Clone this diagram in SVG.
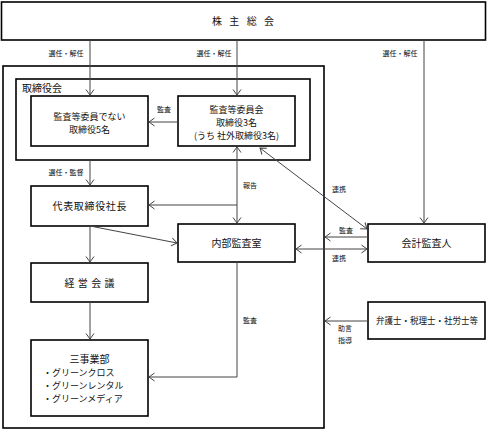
<svg xmlns="http://www.w3.org/2000/svg" width="487" height="431" viewBox="0 0 487 431">
<style>
.box{fill:#fff;stroke:#000;stroke-width:1.6}
.frame{fill:none;stroke:#000;stroke-width:1.6}
.t{font-family:"Noto Sans CJK JP","Noto Sans",sans-serif;font-size:10px;fill:#111;text-anchor:middle}
.s{font-family:"Noto Sans CJK JP","Noto Sans",sans-serif;font-size:9px;fill:#111;text-anchor:middle}
.l{font-family:"Noto Sans CJK JP","Noto Sans",sans-serif;font-size:7px;fill:#111;text-anchor:middle}
.c{fill:none;stroke:#444;stroke-width:1}
.a{marker-end:url(#ah)}
.d{marker-start:url(#ah);marker-end:url(#ah)}
</style>
<defs>
<marker id="ah" markerUnits="userSpaceOnUse" markerWidth="8" markerHeight="10" refX="5.5" refY="4" orient="auto-start-reverse" viewBox="0 0 8 8" overflow="visible">
<path d="M0,0 L5.5,4 L0,8" fill="none" stroke="#444" stroke-width="1"/>
</marker>
</defs>
<rect class="frame" x="3" y="66" width="321" height="362"/>
<g id="torishimariyakukai">
<rect class="frame" x="16" y="79" width="294" height="81"/>
<text class="t" x="22" y="92" style="text-anchor:start">取締役会</text>
</g>
<g id="kabunushi">
<rect class="box" x="1.5" y="2" width="484" height="38"/>
<text class="t" x="243" y="25" textLength="62" lengthAdjust="spacing">株主総会</text>
</g>
<g id="torishimariyaku5">
<rect class="box" x="31" y="96" width="117" height="50"/>
<text class="s" x="89.5" y="120">監査等委員でない</text>
<text class="s" x="89.5" y="133">取締役5名</text>
</g>
<g id="kansaiinkai">
<rect class="box" x="178" y="96" width="117" height="50"/>
<text class="s" x="236.5" y="113">監査等委員会</text>
<text class="s" x="236.5" y="126">取締役3名</text>
<text class="s" x="236.5" y="139">(うち 社外取締役3名)</text>
</g>
<g id="shacho">
<rect class="box" x="31" y="186" width="117" height="40"/>
<text class="t" x="89.5" y="210" textLength="74" lengthAdjust="spacing">代表取締役社長</text>
</g>
<g id="naibukansa">
<rect class="box" x="178" y="224" width="117" height="38"/>
<text class="t" x="236.5" y="247">内部監査室</text>
</g>
<g id="kaikeikansanin">
<rect class="box" x="368" y="224" width="117" height="38"/>
<text class="t" x="426.5" y="247">会計監査人</text>
</g>
<g id="keieikaigi">
<rect class="box" x="31" y="263" width="117" height="39"/>
<text class="t" x="89.5" y="287" textLength="50" lengthAdjust="spacing">経営会議</text>
</g>
<g id="sanjigyobu">
<rect class="box" x="31" y="340" width="117" height="76"/>
<text class="t" x="89.5" y="363">三事業部</text>
<text class="s" x="43" y="376" style="text-anchor:start">・グリーンクロス</text>
<text class="s" x="43" y="389" style="text-anchor:start">・グリーンレンタル</text>
<text class="s" x="43" y="402" style="text-anchor:start">・グリーンメディア</text>
</g>
<g id="bengoshi">
<rect class="box" x="368" y="302" width="117" height="37"/>
<text class="s" x="427" y="324" textLength="102" lengthAdjust="spacingAndGlyphs">弁護士・税理士・社労士等</text>
</g>
<g id="connectors">
<line class="c a" x1="90" y1="40" x2="90" y2="95"/>
<line class="c a" x1="237" y1="40" x2="237" y2="95"/>
<line class="c a" x1="424" y1="40" x2="424" y2="223"/>
<line class="c a" x1="178" y1="122" x2="149" y2="122"/>
<line class="c a" x1="90" y1="160" x2="90" y2="185"/>
<line class="c d" x1="237" y1="147" x2="237" y2="223"/>
<line class="c a" x1="237" y1="205" x2="149" y2="205"/>
<line class="c a" x1="90" y1="226" x2="177" y2="243"/>
<line class="c a" x1="90" y1="226" x2="90" y2="262"/>
<line class="c a" x1="90" y1="302" x2="90" y2="339"/>
<polyline class="c a" points="237,262 237,377 149,377"/>
<line class="c d" x1="260" y1="148" x2="367" y2="229"/>
<line class="c a" x1="368" y1="237" x2="325" y2="237"/>
<line class="c d" x1="296" y1="249" x2="367" y2="249"/>
<line class="c a" x1="368" y1="321" x2="325" y2="321"/>
<text class="l" x="66" y="56">選任・解任</text>
<text class="l" x="214" y="56">選任・解任</text>
<text class="l" x="400" y="56">選任・解任</text>
<text class="l" x="164" y="112">監査</text>
<text class="l" x="66" y="175">選任・監督</text>
<text class="l" x="250" y="188">報告</text>
<text class="l" x="339" y="192">連携</text>
<text class="l" x="346" y="233">監査</text>
<text class="l" x="339" y="261">連携</text>
<text class="l" x="250" y="323">監査</text>
<text class="l" x="345" y="331">助言</text>
<text class="l" x="345" y="343">指導</text>
</g>
</svg>
